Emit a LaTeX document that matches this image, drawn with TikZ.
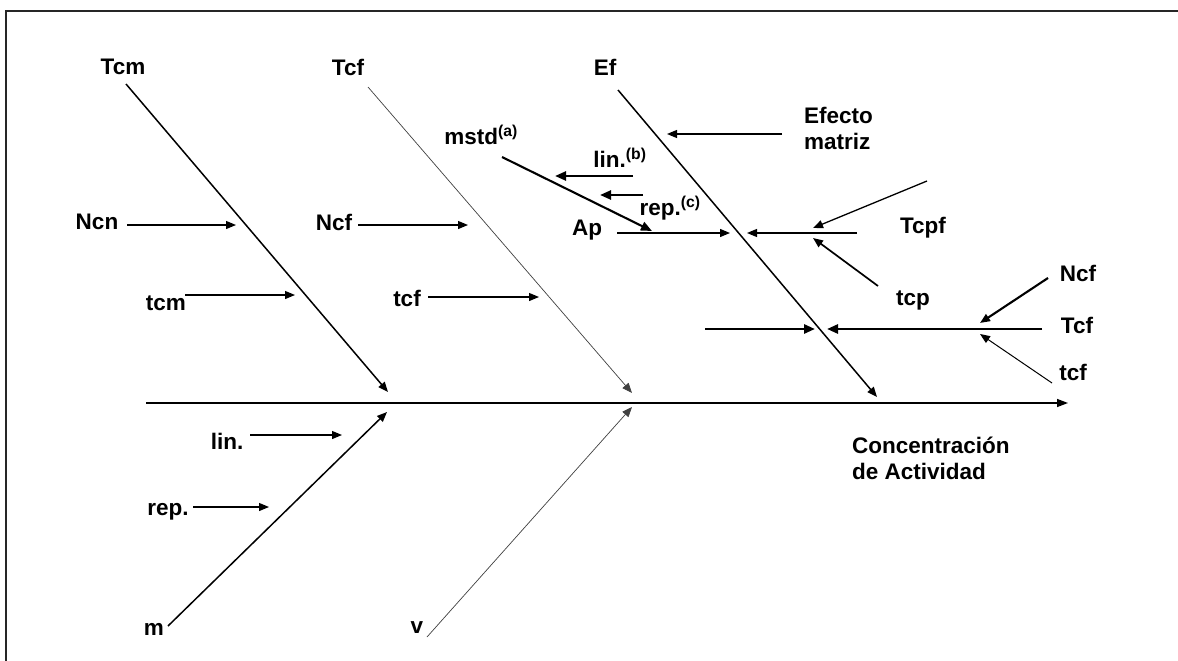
\documentclass[tikz,border=0pt]{standalone}
\usepackage{fontspec}
\setmainfont{Liberation Sans}
\usetikzlibrary{arrows.meta}
\begin{document}
\begin{tikzpicture}[x=1pt,y=-1pt,
  lbl/.style={font=\fontsize{22.5}{26}\selectfont\bfseries, inner sep=0pt},
  arr/.style={line width=1.2pt, -{Triangle[length=10pt,width=8pt]}},
  thinbone/.style={line width=0.7pt, black!75, -{Triangle[length=10pt,width=8pt]}},
  bone/.style={line width=1.5pt, -{Triangle[length=10pt,width=8pt]}},
  heavy/.style={line width=2.4pt, -{Triangle[length=11pt,width=9pt]}}]
\useasboundingbox (0,0) rectangle (1178,661);
\draw[line width=2.2pt, black!85] (6,661) -- (6,11) -- (1178,11);

% labels
\node[lbl] (Tcm) at (123,67) {Tcm};
\node[lbl] (TcfT) at (348,67) {Tcf};
\node[lbl] (Ef) at (605,67) {Ef};
\node[lbl, align=left, anchor=west] (Efecto) at (804,128) {Efecto\\matriz};
\node[lbl] (mstd) at (481,135) {mstd\textsuperscript{(a)}};
\node[lbl] (linb) at (620,158) {lin.\textsuperscript{(b)}};
\node[lbl] (repc) at (670,208) {rep.\textsuperscript{(c)}};
\node[lbl] (Ap) at (587,230) {Ap};
\node[lbl] (Ncn) at (97,222) {Ncn};
\node[lbl] (NcfL) at (334,222) {Ncf};
\node[lbl] (tcm) at (166,303) {tcm};
\node[lbl] (tcfL) at (407,298) {tcf};
\node[lbl] (Tcpf) at (923,228) {Tcpf};
\node[lbl] (tcp) at (913,300) {tcp};
\node[lbl] (NcfR) at (1078,273) {Ncf};
\node[lbl] (TcfR) at (1077,325) {Tcf};
\node[lbl] (tcfR) at (1073,372) {tcf};
\node[lbl, align=left, anchor=west] (Conc) at (852,458) {Concentraci\'on\\de Actividad};
\node[lbl] (lin) at (227,441) {lin.};
\node[lbl] (rep) at (168,512) {rep.};
\node[lbl] (m) at (154,629) {m};
\node[lbl] (v) at (417,628) {v};

% coordinates
\coordinate (spineS) at (146,403);
\coordinate (spineE) at (1068,403);
\coordinate (TcmS) at (126,84);  \coordinate (TcmE) at (388,392);
\coordinate (TcfS) at (368,87);  \coordinate (TcfE) at (632,393);
\coordinate (EfS) at (618,90);   \coordinate (EfE) at (877,397);
\coordinate (mS) at (168,626);   \coordinate (mE) at (387,412);
\coordinate (vS) at (427,637);   \coordinate (vE) at (632,407);
\coordinate (NcnS) at (127,225); \coordinate (NcnE) at (236,225);
\coordinate (tcmS) at (185,295); \coordinate (tcmE) at (295,295);
\coordinate (NcfLS) at (358,225); \coordinate (NcfLE) at (468,225);
\coordinate (tcfLS) at (428,297); \coordinate (tcfLE) at (539,297);
\coordinate (EfcS) at (782,134); \coordinate (EfcE) at (667,134);
\coordinate (mstdS) at (502,157); \coordinate (mstdE) at (652,231);
\coordinate (linbS) at (633,176); \coordinate (linbE) at (555,176);
\coordinate (repcS) at (643,195); \coordinate (repcE) at (600,195);
\coordinate (ApS) at (617,233);  \coordinate (ApE) at (730,233);
\coordinate (TcpfS) at (857,233); \coordinate (TcpfE) at (747,233);
\coordinate (upS) at (927,181);  \coordinate (upE) at (813,228);
\coordinate (tcpS) at (878,286); \coordinate (tcpE) at (813,238);
\coordinate (hlS) at (705,329);  \coordinate (hlE) at (815,329);
\coordinate (hrS) at (1042,329); \coordinate (hrE) at (827,329);
\coordinate (NcfRS) at (1048,278); \coordinate (NcfRE) at (980,323);
\coordinate (tcfRS) at (1052,383); \coordinate (tcfRE) at (980,334);
\coordinate (linS) at (250,435); \coordinate (linE) at (342,435);
\coordinate (repS) at (193,507); \coordinate (repE) at (269,507);

% spine and bones
\draw[line width=1.4pt, -{Triangle[length=11pt,width=8pt]}] (spineS) -- (spineE);
\draw[bone] (TcmS) -- (TcmE);
\draw[thinbone] (TcfS) -- (TcfE);
\draw[bone] (EfS) -- (EfE);
\draw[bone] (mS) -- (mE);
\draw[thinbone] (vS) -- (vE);

% sub-causes
\draw[arr] (NcnS) -- (NcnE);
\draw[arr] (tcmS) -- (tcmE);
\draw[arr] (NcfLS) -- (NcfLE);
\draw[arr] (tcfLS) -- (tcfLE);
\draw[arr] (EfcS) -- (EfcE);
\draw[line width=2.1pt, -{Triangle[length=11pt,width=9pt]}] (mstdS) -- (mstdE);
\draw[heavy] (linbS) -- (linbE);
\draw[heavy] (repcS) -- (repcE);
\draw[arr] (ApS) -- (ApE);
\draw[arr] (TcpfS) -- (TcpfE);
\draw[arr, line width=1.3pt] (upS) -- (upE);
\draw[arr, line width=1.7pt] (tcpS) -- (tcpE);
\draw[heavy, line width=2.7pt] (hlS) -- (hlE);
\draw[heavy, line width=2.7pt] (hrS) -- (hrE);
\draw[arr, line width=2.1pt] (NcfRS) -- (NcfRE);
\draw[arr, line width=1pt] (tcfRS) -- (tcfRE);
\draw[arr] (linS) -- (linE);
\draw[arr] (repS) -- (repE);
\end{tikzpicture}
\end{document}
